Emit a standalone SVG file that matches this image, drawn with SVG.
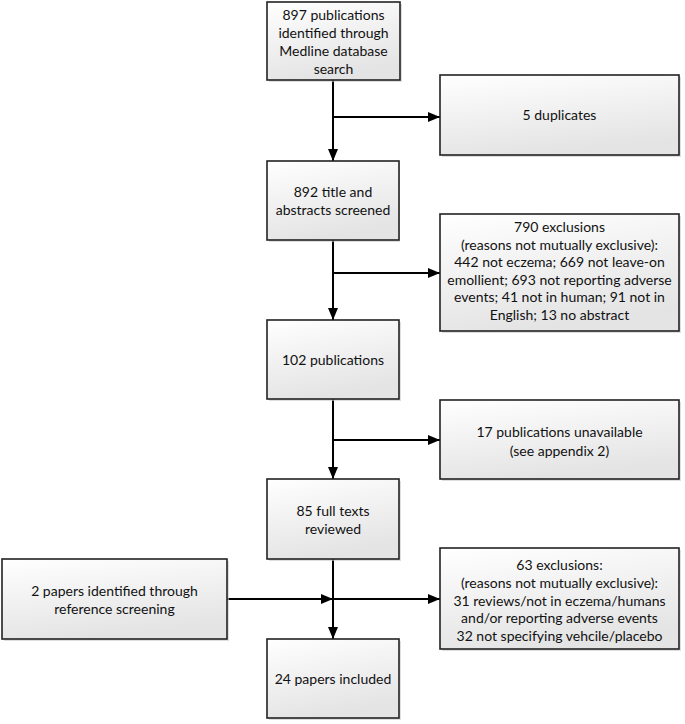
<svg xmlns="http://www.w3.org/2000/svg" width="685" height="724" viewBox="0 0 685 724">
<defs>
<linearGradient id="g" x1="0" y1="0" x2="0.3" y2="1">
<stop offset="0" stop-color="#ffffff"/>
<stop offset="1" stop-color="#e4e4e4"/>
</linearGradient>
<marker id="ah" markerWidth="12" markerHeight="10" refX="12" refY="5" orient="auto" markerUnits="userSpaceOnUse">
<path d="M0,0 L12,5 L0,10 Z" fill="#000"/>
</marker>
</defs>
<style>
.sh{fill:#c8c8c8;opacity:0.6}
.bx{fill:url(#g);stroke:#222;stroke-width:1.6}
text{font-family:Lato,"Liberation Sans",sans-serif;font-size:14px;fill:#111;text-anchor:middle}
.c{stroke:#000;stroke-width:2;fill:none}
.a{stroke:#000;stroke-width:2;fill:none;marker-end:url(#ah)}
</style>
<rect width="685" height="724" fill="#fff"/>
<g id="connectors">
<line class="a" x1="333" y1="80" x2="333" y2="161"/>
<line class="a" x1="333" y1="117" x2="440" y2="117"/>
<line class="a" x1="333" y1="240" x2="333" y2="320"/>
<line class="a" x1="333" y1="273" x2="440" y2="273"/>
<line class="a" x1="333" y1="399" x2="333" y2="479"/>
<line class="a" x1="333" y1="440" x2="440" y2="440"/>
<line class="a" x1="333" y1="559" x2="333" y2="639"/>
<line class="a" x1="227" y1="599" x2="333" y2="599"/>
<line class="a" x1="333" y1="599" x2="440" y2="599"/>
</g>
<g id="n1">
<rect class="sh" x="269" y="4" width="133" height="78"/>
<rect class="bx" x="267" y="2" width="133" height="78"/>
<text x="333.5" y="20">897 publications</text>
<text x="333.5" y="38">identified through</text>
<text x="333.5" y="56">Medline database</text>
<text x="333.5" y="74">search</text>
</g>
<g id="n2">
<rect class="sh" x="442" y="77" width="239" height="80"/>
<rect class="bx" x="440" y="75" width="239" height="80"/>
<text x="559.5" y="120">5 duplicates</text>
</g>
<g id="n3">
<rect class="sh" x="269" y="163" width="131" height="79"/>
<rect class="bx" x="267" y="161" width="132" height="79"/>
<text x="333" y="197">892 title and</text>
<text x="333" y="215">abstracts screened</text>
</g>
<g id="n4">
<rect class="sh" x="442" y="216" width="239" height="117"/>
<rect class="bx" x="440" y="214" width="239" height="117"/>
<text x="559.5" y="232">790 exclusions</text>
<text x="559.5" y="249.5">(reasons not mutually exclusive):</text>
<text x="559.5" y="267">442 not eczema; 669 not leave-on</text>
<text x="559.5" y="284.5">emollient; 693 not reporting adverse</text>
<text x="559.5" y="302">events; 41 not in human; 91 not in</text>
<text x="559.5" y="319.5">English; 13 no abstract</text>
</g>
<g id="n5">
<rect class="sh" x="269" y="322" width="132" height="79"/>
<rect class="bx" x="267" y="320" width="132" height="79"/>
<text x="333" y="365">102 publications</text>
</g>
<g id="n6">
<rect class="sh" x="442" y="402" width="239" height="79"/>
<rect class="bx" x="440" y="400" width="239" height="79"/>
<text x="559.5" y="437">17 publications unavailable</text>
<text x="559.5" y="456">(see appendix 2)</text>
</g>
<g id="n7">
<rect class="sh" x="269" y="481" width="132" height="80"/>
<rect class="bx" x="267" y="479" width="132" height="80"/>
<text x="333" y="516">85 full texts</text>
<text x="333" y="534">reviewed</text>
</g>
<g id="n8">
<rect class="sh" x="4" y="561" width="225" height="80"/>
<rect class="bx" x="2" y="559" width="225" height="80"/>
<text x="114.5" y="596">2 papers identified through</text>
<text x="114.5" y="614">reference screening</text>
</g>
<g id="n9">
<rect class="sh" x="442" y="550" width="239" height="101"/>
<rect class="bx" x="440" y="548" width="239" height="101"/>
<text x="559.5" y="570">63 exclusions:</text>
<text x="559.5" y="588">(reasons not mutually exclusive):</text>
<text x="559.5" y="606">31 reviews/not in eczema/humans</text>
<text x="559.5" y="623">and/or reporting adverse events</text>
<text x="559.5" y="641">32 not specifying vehcile/placebo</text>
</g>
<g id="n10">
<rect class="sh" x="269" y="641" width="132" height="79"/>
<rect class="bx" x="267" y="639" width="132" height="79"/>
<text x="333" y="684">24 papers included</text>
</g>
</svg>
